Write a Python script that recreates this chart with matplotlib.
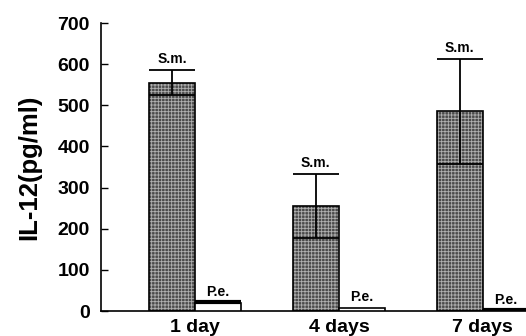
import numpy as np
import matplotlib
matplotlib.use("Agg")
import matplotlib.pyplot as plt

# values
days = ['1 day', '4 days', '7 days']
sm = [555, 255, 485]
sm_err = [30, 77, 127]
pe = [19, 8, 2]
pe_err = [2, 0, 0]

plt.rcParams['font.family'] = ['Liberation Sans', 'DejaVu Sans']
plt.rcParams['font.weight'] = 'bold'
plt.rcParams['hatch.color'] = '#b0b0b0'
plt.rcParams['hatch.linewidth'] = 0.6

fig = plt.figure(figsize=(5.26, 3.36), dpi=100)
ax = fig.add_axes([0.192, 0.0744, 0.808, 0.857])

x = np.arange(len(days))
w = 0.32

# S.m. bars: dark stippled texture + black outline
ax.bar(x - w / 2, sm, w, color='#4a4a4a', edgecolor='#b0b0b0', hatch='+++++', linewidth=0, zorder=2)
ax.bar(x - w / 2, sm, w, fill=False, edgecolor='black', linewidth=1.2, zorder=3)
# P.e. bars: white
ax.bar(x + w / 2, pe, w, color='white', edgecolor='black', linewidth=1.2, zorder=3)

# error bars spanning the whole bar width
for i in range(len(days)):
    xc = x[i] - w / 2
    lo, hi = sm[i] - sm_err[i], sm[i] + sm_err[i]
    ax.vlines(xc, lo, hi, color='black', linewidth=1.3, zorder=4)
    ax.hlines([lo, hi], xc - w / 2, xc + w / 2, color='black', linewidth=1.3, zorder=4)
    ax.text(xc, hi + 10, 'S.m.', ha='center', va='bottom', fontsize=10, fontweight='bold')

    xp = x[i] + w / 2
    top = pe[i] + pe_err[i]
    if pe_err[i] > 0 or pe[i] < 5:
        ax.hlines(top, xp - w / 2, xp + w / 2, color='black', linewidth=3, zorder=4)
    ax.text(xp, top + 8, 'P.e.', ha='center', va='bottom', fontsize=10, fontweight='bold')

ax.set_xlim(-0.653, 2.30)
ax.set_ylim(0, 700)
ax.set_yticks(np.arange(0, 701, 100))
ax.set_xticks(x)
ax.set_xticklabels(days, fontsize=14, fontweight='bold')
ax.tick_params(axis='x', length=0, pad=6)
ax.tick_params(axis='y', direction='in', length=5, width=1, pad=8, labelsize=14)
for lab in ax.get_yticklabels():
    lab.set_fontweight('bold')
ax.set_ylabel('IL-12(pg/ml)', fontsize=18.5, fontweight='bold', labelpad=12)

ax.spines['top'].set_visible(False)
ax.spines['right'].set_visible(False)
ax.spines['left'].set_linewidth(1.2)
ax.spines['bottom'].set_linewidth(1.2)

fig.savefig('out.png', dpi=100)
